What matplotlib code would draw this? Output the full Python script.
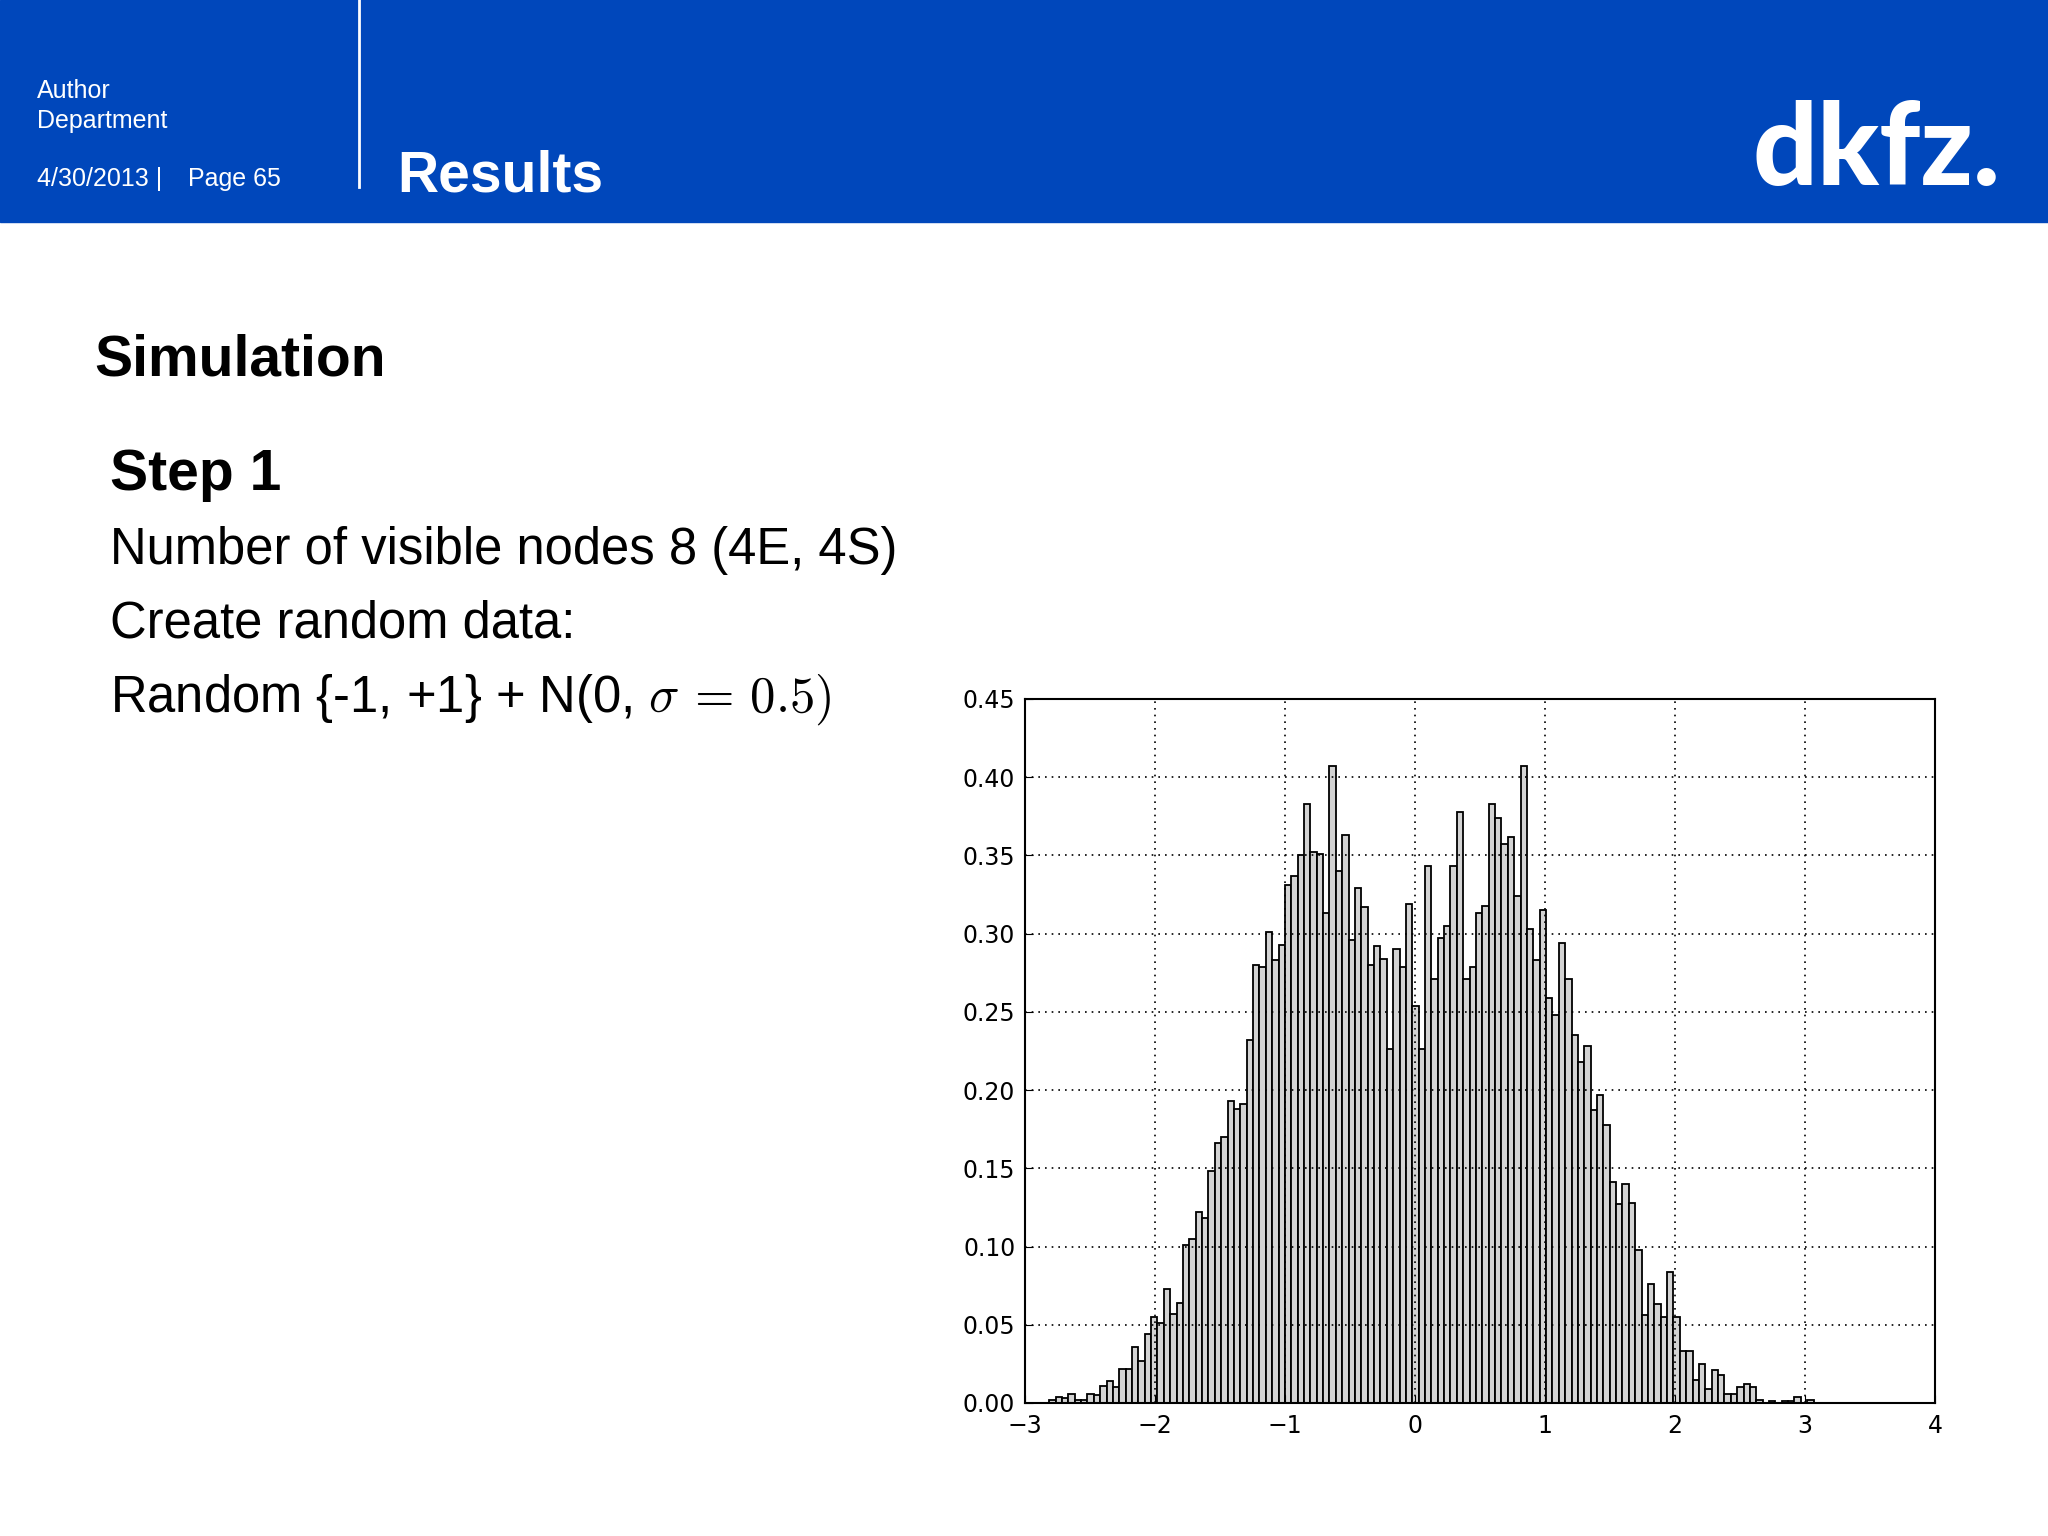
import numpy as np
import matplotlib
matplotlib.use("Agg")
import matplotlib.pyplot as plt

# Histogram bins (120 bins, left edge -2.814, width 0.049)
bin_start = -2.814
bin_width = 0.049
densities = [
    0.002, 0.004, 0.003, 0.006, 0.002, 0.002, 0.006, 0.005, 0.011, 0.014,
    0.010, 0.022, 0.022, 0.036, 0.027, 0.044, 0.055, 0.051, 0.073, 0.057,
    0.064, 0.101, 0.105, 0.122, 0.118, 0.148, 0.166, 0.170, 0.193, 0.188,
    0.191, 0.232, 0.280, 0.279, 0.301, 0.283, 0.293, 0.331, 0.337, 0.350,
    0.383, 0.352, 0.351, 0.313, 0.407, 0.340, 0.363, 0.296, 0.329, 0.317,
    0.280, 0.292, 0.284, 0.226, 0.290, 0.279, 0.319, 0.254, 0.226, 0.343,
    0.271, 0.297, 0.305, 0.343, 0.378, 0.271, 0.279, 0.313, 0.318, 0.383,
    0.374, 0.357, 0.362, 0.324, 0.407, 0.303, 0.283, 0.315, 0.259, 0.248,
    0.294, 0.271, 0.235, 0.218, 0.228, 0.187, 0.197, 0.178, 0.141, 0.127,
    0.140, 0.128, 0.098, 0.056, 0.076, 0.063, 0.055, 0.084, 0.055, 0.033,
    0.033, 0.015, 0.025, 0.009, 0.021, 0.018, 0.006, 0.006, 0.010, 0.012,
    0.010, 0.002, 0.000, 0.001, 0.000, 0.001, 0.001, 0.004, 0.000, 0.002,
]
xticks = [-3, -2, -1, 0, 1, 2, 3, 4]
yticks = [0.00, 0.05, 0.10, 0.15, 0.20, 0.25, 0.30, 0.35, 0.40, 0.45]

W, H = 2048, 1536
fig = plt.figure(figsize=(W / 100, H / 100), dpi=100)
plt.rcParams["mathtext.fontset"] = "cm"

def fy(y):
    return 1 - y / H

# header band
blue = "#0047BB"
fig.patches.append(plt.Rectangle((0, fy(222)), 1, 222 / H, transform=fig.transFigure, color=blue, zorder=0))
fig.lines.append(plt.Line2D([359 / W, 359 / W], [1, fy(187)], transform=fig.transFigure, color="white", lw=2))

sans = "Liberation Sans"
fig.text(37 / W, fy(98), "Author", color="white", fontsize=18, family=sans, va="baseline")
fig.text(37 / W, fy(128), "Department", color="white", fontsize=18, family=sans, va="baseline")
fig.text(37 / W, fy(186), "4/30/2013 |", color="white", fontsize=18, family=sans, va="baseline")
fig.text(188 / W, fy(186), "Page 65", color="white", fontsize=18, family=sans, va="baseline")
fig.text(397 / W, fy(191), "Results", color="white", fontsize=41, family=sans, weight="bold", va="baseline")
fig.text(2000 / W, fy(185), "dkfz.", color="white", fontsize=82, family="Lato", weight="black",
         va="baseline", ha="right")

# slide body
fig.text(94 / W, fy(375), "Simulation", fontsize=41, family=sans, weight="bold", va="baseline")
fig.text(110 / W, fy(490), "Step 1", fontsize=41, family=sans, weight="bold", va="baseline")
fig.text(110 / W, fy(564), "Number of visible nodes 8 (4E, 4S)", fontsize=36.5, family=sans, va="baseline")
fig.text(110 / W, fy(637), "Create random data:", fontsize=36.5, family=sans, va="baseline")
fig.text(110 / W, fy(712), r"Random {-1, +1} + N(0, $\sigma\,=\,0.5)$", fontsize=36.5, family=sans, va="baseline")

# histogram
ax = fig.add_axes([1025 / W, fy(1403), (1935 - 1025) / W, (1403 - 699) / H])
lefts = bin_start + bin_width * np.arange(len(densities))
ax.bar(lefts, densities, width=bin_width, align="edge", color="#d3d3d3", edgecolor="black", linewidth=1.3)
ax.set_xlim(-3, 4)
ax.set_ylim(0, 0.45)
ax.set_xticks(xticks)
ax.set_yticks(yticks)
ax.set_xticklabels(["\u22123", "\u22122", "\u22121", "0", "1", "2", "3", "4"])
ax.set_yticklabels([f"{v:.2f}" for v in yticks])
ax.tick_params(labelsize=17, direction="in", length=6)
ax.tick_params(axis="x", pad=8)
ax.tick_params(axis="y", pad=7)
ax.grid(True, color="black", linestyle=(0, (1, 3)), linewidth=1.2)
ax.set_axisbelow(False)
for s in ax.spines.values():
    s.set_linewidth(1.5)

fig.savefig("out.png", dpi=100)
